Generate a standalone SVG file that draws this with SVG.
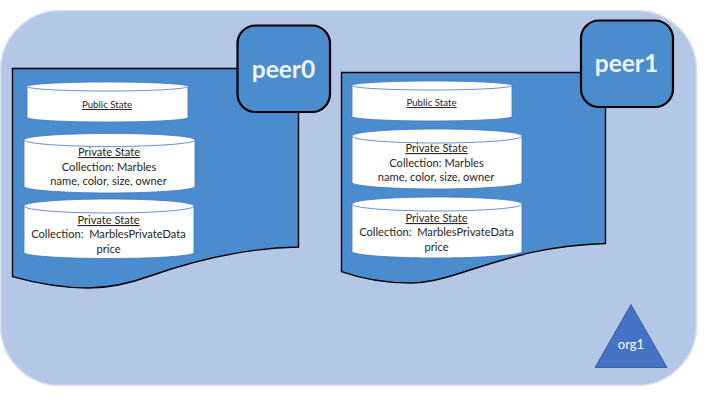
<svg xmlns="http://www.w3.org/2000/svg" width="720" height="405" viewBox="0 0 720 405">
<style>
text{font-family:"Lato","Open Sans",sans-serif;fill:#262626;text-anchor:middle;font-size:11.15px}
.sm{font-size:9.7px}
.u{text-decoration:underline;text-decoration-thickness:1.5px;text-decoration-color:#000;text-underline-offset:1.5px}
.doc{fill:#4a8cce;stroke:#000;stroke-width:1.4}
.peer{fill:#4a8cce;stroke:#000;stroke-width:2.2}
.pt{font-size:24.5px;font-weight:700;fill:#eef4fb}
.cyl{fill:#fff;stroke:#4472c4;stroke-width:0.8}
</style>
<g id="org">
<rect x="0.5" y="10.5" width="696" height="375" rx="60" ry="60" fill="#b4c7e7" stroke="#d6e0f1" stroke-width="1.5"/>
</g>
<g id="peer0-ledger">
<path class="doc" d="M12.5 68.500H298.500V247C240 248 190 262 150 276C120 287 100 288 88 288C60 288 35 283 12.500 276.700Z"/>
</g>
<g id="peer1-ledger">
<path class="doc" d="M341.500 72.500H605.500V243.500C550 245 510 257 470 270C440 280 425 283 410 283C385 283 362 279 341.500 271.700Z"/>
</g>
<g id="peer0">
<rect class="peer" x="237.500" y="25.500" width="92.500" height="86.500" rx="18"/>
<text class="pt" x="283.500" y="78">peer0</text>
</g>
<g id="peer1">
<rect class="peer" x="581" y="20.500" width="92" height="86.500" rx="18"/>
<text class="pt" x="626.500" y="72">peer1</text>
</g>
<g id="p0-public">
<path class="cyl" d="M27 86.500C27 84 63 82 107.500 82S188 84 188 86.500V117.500C188 120 152 122 107.500 122S27 120 27 117.500Z"/>
<path class="cyl" d="M27 86.500C27 89 63 91 107.500 91S188 89 188 86.500"/>
<text class="sm u" x="107" y="108">Public State</text>
</g>
<g id="p0-private-marbles">
<path class="cyl" d="M24 140C24 136 62 133.500 109.500 133.500S195 136 195 140V186.500C195 190 157 193 109.500 193S24 190 24 186.500Z"/>
<path class="cyl" d="M24 140C24 143.500 62 146.500 109.500 146.500S195 143.500 195 140"/>
<text class="u" x="109" y="156">Private State</text>
<text x="109" y="171">Collection: Marbles</text>
<text x="108.500" y="185">name, color, size, owner</text>
</g>
<g id="p0-private-data">
<path class="cyl" d="M24 206C24 202 62 199 109 199S194 202 194 206V252.500C194 256 156 258.500 109 258.500S24 256 24 252.500Z"/>
<path class="cyl" d="M24 206C24 210 62 213 109 213S194 210 194 206"/>
<text class="u" x="108.500" y="224">Private State</text>
<text x="108.500" y="238" xml:space="preserve">Collection:  MarblesPrivateData</text>
<text x="108.500" y="253">price</text>
</g>
<g id="p1-public">
<path class="cyl" d="M352 85.500C352 83 388 81 432 81S512 83 512 85.500V116.500C512 119 476 121 432 121S352 119 352 116.500Z"/>
<path class="cyl" d="M352 85.500C352 88 388 90 432 90S512 88 512 85.500"/>
<text class="sm u" x="431.500" y="106">Public State</text>
</g>
<g id="p1-private-marbles">
<path class="cyl" d="M352 136C352 132 390 129 437 129S522 132 522 136V182.500C522 186 484 189 437 189S352 186 352 182.500Z"/>
<path class="cyl" d="M352 136C352 140 390 143 437 143S522 140 522 136"/>
<text class="u" x="436.500" y="152">Private State</text>
<text x="436.500" y="167">Collection: Marbles</text>
<text x="436" y="181">name, color, size, owner</text>
</g>
<g id="p1-private-data">
<path class="cyl" d="M352 204C352 200 390 197 437 197S522 200 522 204V251.500C522 255 484 258 437 258S352 255 352 251.500Z"/>
<path class="cyl" d="M352 204C352 208 390 211 437 211S522 208 522 204"/>
<text class="u" x="436.500" y="222">Private State</text>
<text x="436.500" y="236" xml:space="preserve">Collection:  MarblesPrivateData</text>
<text x="436.500" y="251">price</text>
</g>
<g id="org1">
<path d="M631 304.500L667 367.500H595Z" fill="#4472c4" stroke="#2f528f" stroke-width="0.8"/>
<text x="631" y="349" style="font-size:13px;fill:#fff">org1</text>
</g>
<g id="connectors"></g>
</svg>
